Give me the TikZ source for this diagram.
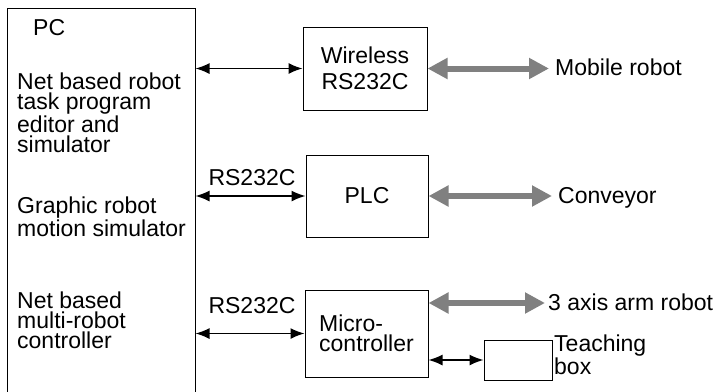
\documentclass[tikz,border=0pt]{standalone}
\usepackage{fontspec}
\setmainfont{Liberation Sans}
\usetikzlibrary{arrows.meta}

\begin{document}
\begin{tikzpicture}[x=1pt,y=-1pt,>=Latex,
  box/.style={draw,line width=1pt,inner sep=0pt,align=left,font=\fontsize{23}{20}\selectfont},
  txt/.style={inner sep=0pt,align=left,font=\fontsize{23}{20}\selectfont},
  barr/.style={<->,line width=1.5pt,>={Latex[length=14pt,width=11pt]}},
  garr/.style={<->,draw=gray,line width=6pt,shorten >=6pt,>={Triangle[length=20pt,width=20pt]}}]
\useasboundingbox (0,0) rectangle (725,391);
% PC block, open at the bottom
\node[box,minimum width=188,minimum height=400] (pc) at (101,208) {};
\node[txt,anchor=base west] (pcname) at (33,35) {PC};
% multi-line texts: base is the last line
\node[txt,anchor=base west] (editor) at (17,152) {Net based robot\\task program\\editor and\\simulator};
\node[txt,anchor=base west,font=\fontsize{23}{18}\selectfont] (motion) at (17,236) {Graphic robot\\motion simulator};
\node[txt,anchor=base west] (multi) at (17,348) {Net based\\multi-robot\\controller};
% interface boxes
\node[box,align=center,font=\fontsize{23}{26}\selectfont,minimum width=124,minimum height=83] (wl) at (365,68.5) {Wireless\\RS232C};
\node[box,minimum width=122,minimum height=82] (plc) at (367,196) {PLC};
\node[box,minimum width=123,minimum height=87] (mc) at (366.5,333.5) {Micro-\\controller};
\node[box,minimum width=68,minimum height=40] (tb) at (518,360) {};
% devices
\node[txt,anchor=base west] (mob) at (555,75) {Mobile robot};
\node[txt,anchor=base west] (conv) at (558,203) {Conveyor};
\node[txt,anchor=base west] (arm) at (548,310) {3 axis arm robot};
\node[txt,anchor=base west,font=\fontsize{23}{17}\selectfont] (teach) at (554,374) {Teaching\\box};
\node[txt,anchor=base] (rsa) at (252,185) {RS232C};
\node[txt,anchor=base] (rsb) at (252,313) {RS232C};
% links
\draw[barr] (wl.west -| pc.east) -- (wl.west);
\draw[barr] (plc.west -| pc.east) -- (plc.west);
\draw[barr] (mc.west -| pc.east) -- (mc.west);
\draw[barr] (tb.west -| mc.east) -- (tb.west);
\draw[garr] (wl.east) -- (wl.east -| mob.west);
\draw[garr] (plc.east) -- (plc.east -| conv.west);
\draw[garr,shorten >=3pt] (mc.east |- 0,303) -- (arm.west |- 0,303);
\end{tikzpicture}
\end{document}
